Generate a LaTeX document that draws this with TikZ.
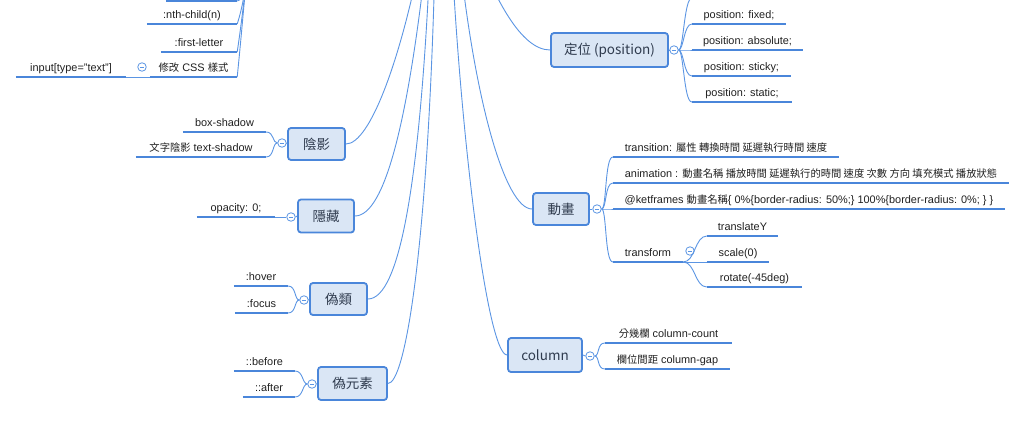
\documentclass[tikz,border=0pt]{standalone}
\usepackage{fontspec}
\setmainfont{Liberation Sans}[Scale=1.06]
\newfontfamily\cjk{Noto Sans CJK TC}
\definecolor{lineblue}{HTML}{4A86DA}
\definecolor{connblue}{HTML}{5B95E3}
\definecolor{boxfill}{HTML}{DAE6F5}
\definecolor{boxtext}{HTML}{2F3B4E}

\begin{document}
\begin{tikzpicture}[x=1pt,y=-1pt,
  topic/.style={draw=lineblue, line width=1.8pt, fill=boxfill, rounded corners=3pt,
    text=boxtext, font=\cjk\fontsize{13.5}{16}\selectfont, inner sep=0pt},
  leaf/.style={anchor=south, inner xsep=0pt, inner ysep=3pt, text height=7.6pt,
    text depth=2.2pt, font=\fontsize{10.3}{12}\selectfont, text=black!88},
  uline/.style={draw=lineblue, line width=2.8pt},
  conn/.style={draw=connblue, line width=0.9pt},
  fold/.style={circle, draw=connblue, fill=white, line width=0.8pt, minimum size=8.5pt,
    inner sep=0pt, path picture={\draw[connblue, line width=0.7pt]
      ([xshift=-2.2pt]path picture bounding box.center) --
      ([xshift=2.2pt]path picture bounding box.center);}}]
  \clip (0,0) rectangle (1024,436);

  % topics
  \node[topic, minimum width=57pt, minimum height=32pt] (shadow) at (316.5,144) {陰影};
  \node[topic, minimum width=56pt, minimum height=33pt] (hide) at (326,216) {隱藏};
  \node[topic, minimum width=57pt, minimum height=32pt] (pclass) at (338.5,299) {偽類};
  \node[topic, minimum width=69pt, minimum height=33pt] (pelem) at (352.5,383.5) {偽元素};
  \node[topic, minimum width=117pt, minimum height=34pt] (pos) at (609.5,50) {定位 (position)};
  \node[topic, minimum width=56pt, minimum height=32pt] (anim) at (561,209) {動畫};
  \node[topic, minimum width=74pt, minimum height=34pt] (col) at (545,355) {column};

  % fold buttons
  \node[fold] (f-shadow) at (282,143) {};
  \node[fold] (f-hide) at (291,217) {};
  \node[fold] (f-pclass) at (304,300) {};
  \node[fold] (f-pelem) at (312,384) {};
  \node[fold] (f-pos) at (674,50) {};
  \node[fold] (f-anim) at (597,209) {};
  \node[fold] (f-col) at (590,356) {};
  \node[fold] (f-css) at (142,67) {};
  \node[fold] (f-trans) at (690,251) {};

  % leaves, top left
  \node[leaf, minimum width=71pt] (cut) at (201.5,1) {};
  \node[leaf, minimum width=90pt] (nth) at (192,24) {:nth-child(n)};
  \node[leaf, minimum width=76pt] (first) at (199,52) {:first-letter};
  \node[leaf, minimum width=87pt] (css) at (193.5,77) {{\cjk 修改} CSS {\cjk 樣式}};
  \node[leaf, minimum width=110pt] (input) at (71,77) {input[type="text"]};
  % leaves, left
  \node[leaf, minimum width=83pt] (bs) at (224.5,132) {box-shadow};
  \node[leaf, minimum width=130pt] (ts) at (201,157) {{\cjk 文字陰影} text-shadow};
  \node[leaf, minimum width=78pt] (op) at (236,217) {opacity: 0;};
  \node[leaf, minimum width=54pt] (hover) at (261,286) {:hover};
  \node[leaf, minimum width=53pt] (focus) at (261.5,313) {:focus};
  \node[leaf, minimum width=61pt] (before) at (264.5,371) {::before};
  \node[leaf, minimum width=52pt] (after) at (269,397) {::after};
  % leaves, right
  \node[leaf, minimum width=94pt] (fixed) at (739,24) {position: fixed;};
  \node[leaf, minimum width=111pt] (absolute) at (747.5,50) {position: absolute;};
  \node[leaf, minimum width=99pt] (sticky) at (741.5,76) {position: sticky;};
  \node[leaf, minimum width=100pt] (static) at (742,102) {position: static;};
  \node[leaf, minimum width=226pt] (trn) at (726,157) {transition: {\cjk 屬性 轉換時間 延遲執行時間 速度}};
  \node[leaf, minimum width=396pt] (ani) at (811,183) {animation : {\cjk 動畫名稱 播放時間 延遲執行的時間 速度 次數 方向 填充模式 播放狀態}};
  \node[leaf, minimum width=392pt] (kf) at (809,209) {@ketframes {\cjk 動畫名稱}\{ 0\%\{border-radius: 50\%;\} 100\%\{border-radius: 0\%; \} \}};
  \node[leaf, minimum width=70pt] (trans) at (648,262) {transform};
  \node[leaf, minimum width=71pt] (ty) at (742.5,236) {translateY};
  \node[leaf, minimum width=62pt] (sc) at (738,262) {scale(0)};
  \node[leaf, minimum width=95pt] (rot) at (754.5,287) {rotate(-45deg)};
  \node[leaf, minimum width=127pt] (count) at (668.5,343) {{\cjk 分幾欄} column-count};
  \node[leaf, minimum width=125pt] (gap) at (667.5,369) {{\cjk 欄位間距} column-gap};

  \foreach \n in {cut,nth,first,css,input,bs,ts,op,hover,focus,before,after,
    fixed,absolute,sticky,static,trn,ani,kf,trans,ty,sc,rot,count,gap}
    \draw[uline] (\n.south west) -- (\n.south east);

  % from the root, off the top
  \coordinate (in-shadow) at (420,-40);
  \coordinate (in-hide) at (426,-40);
  \coordinate (in-pclass) at (430,-40);
  \coordinate (in-pelem) at (435,-40);
  \coordinate (in-col) at (452,-40);
  \coordinate (in-anim) at (460,-40);
  \coordinate (in-pos) at (480,-40);
  \coordinate (in-css) at (249,-20);
  \coordinate (pos-above) at (692,-2);
  \draw[conn] (in-shadow) .. controls (400,60) and (370,144) .. (shadow.east);
  \draw[conn] (in-hide) .. controls (408,120) and (385,216) .. (hide.east);
  \draw[conn] (in-pclass) .. controls (420,180) and (400,299) .. (pclass.east);
  \draw[conn] (in-pelem) .. controls (428,250) and (405,384) .. (pelem.east);
  \draw[conn] (in-col) .. controls (462,150) and (488,355) .. (col.west);
  \draw[conn] (in-anim) .. controls (475,100) and (505,209) .. (anim.west);
  \draw[conn] (in-pos) .. controls (495,-5) and (520,50) .. (pos.west);

  % topic to fold
  \foreach \t in {shadow,hide,pclass,pelem}
    \draw[conn] (\t.west) -- (f-\t.east);
  \foreach \t in {pos,anim,col}
    \draw[conn] (\t.east) -- (f-\t.west);

  % branches to the left
  \foreach \l in {cut,nth,first,css}
    \draw[conn] (in-css) .. controls (245,-20) and (245,0) .. (\l.south east);
  \draw[conn] (css.south west) -- (input.south east);
  \foreach \l in {bs,ts}
    \draw[conn] (f-shadow.west) .. controls +(-5,0) and +(8,0) .. (\l.south east);
  \draw[conn] (f-hide.west) -- (op.south east);
  \foreach \l in {hover,focus}
    \draw[conn] (f-pclass.west) .. controls +(-5,0) and +(8,0) .. (\l.south east);
  \foreach \l in {before,after}
    \draw[conn] (f-pelem.west) .. controls +(-5,0) and +(8,0) .. (\l.south east);

  % branches to the right
  \draw[conn] (f-pos.east) .. controls +(5,0) and +(-8,0) .. (pos-above);
  \foreach \l in {fixed,absolute,sticky,static}
    \draw[conn] (f-pos.east) .. controls +(5,0) and +(-8,0) .. (\l.south west);
  \foreach \l in {trn,ani,kf,trans}
    \draw[conn] (f-anim.east) .. controls +(5,0) and +(-8,0) .. (\l.south west);
  \foreach \l in {ty,sc,rot}
    \draw[conn] (trans.south east) .. controls +(12,0) and +(-12,0) .. (\l.south west);
  \foreach \l in {count,gap}
    \draw[conn] (f-col.east) .. controls +(5,0) and +(-8,0) .. (\l.south west);
\end{tikzpicture}
\end{document}
